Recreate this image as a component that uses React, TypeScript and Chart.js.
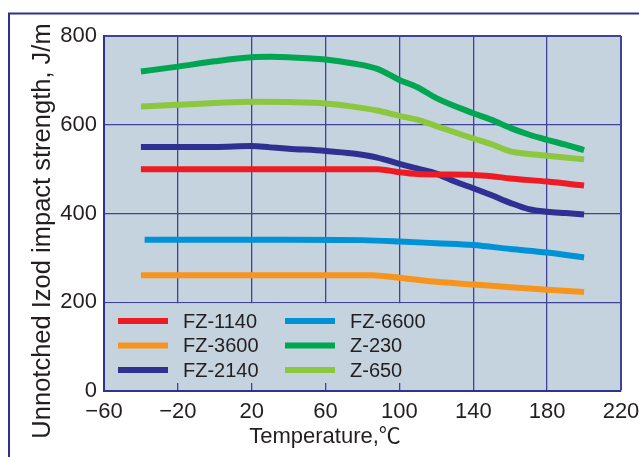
import React, { useEffect, useRef } from "react";
import { Chart, registerables } from "chart.js";

Chart.register(...registerables);

// ---- data ----
const xTickValues = [-60, -20, 20, 60, 100, 140, 180, 220];
const yTickValues = [0, 200, 400, 600, 800];

const seriesNames = ["FZ-1140", "FZ-3600", "FZ-2140", "FZ-6600", "Z-230", "Z-650"];
const seriesColors = ["#ed1c24", "#f7941d", "#2e3192", "#0092d6", "#00a651", "#8dc63f"];

const fz1140Temps = [-40, 0, 40, 88, 100, 110, 120, 140, 150, 160, 180, 200];
const fz1140Values = [500, 500, 500, 500, 493, 489, 488, 487, 484, 479, 472, 463];

const fz3600Temps = [-40, 0, 40, 85, 100, 120, 140, 160, 180, 200];
const fz3600Values = [261, 261, 261, 261, 255, 246, 240, 234, 228, 223];

const fz2140Temps = [-40, -20, 0, 20, 30, 40, 60, 75, 88, 100, 110, 120, 130, 140, 150, 160, 170, 180, 190, 200];
const fz2140Values = [550, 550, 550, 552, 549, 546, 541, 535, 526, 512, 501, 490, 472, 457, 441, 424, 410, 404, 401, 398];

const fz6600Temps = [-38, 0, 40, 80, 100, 120, 140, 160, 180, 200];
const fz6600Values = [341, 341, 341, 340, 337, 333, 329, 320, 312, 301];

const z230Temps = [-40, -20, 0, 20, 30, 40, 60, 75, 88, 100, 110, 120, 140, 150, 160, 170, 180, 190, 200];
const z230Values = [720, 731, 743, 752, 753, 752, 747, 738, 726, 701, 684, 660, 626, 611, 593, 578, 566, 555, 543];

const z650Temps = [-40, -20, 0, 20, 40, 60, 73, 88, 100, 110, 120, 140, 150, 160, 170, 180, 200];
const z650Values = [641, 645, 649, 652, 651, 648, 642, 632, 620, 611, 597, 569, 556, 540, 534, 530, 522];

const seriesTemps = [fz1140Temps, fz3600Temps, fz2140Temps, fz6600Temps, z230Temps, z650Temps];
const seriesValues = [fz1140Values, fz3600Values, fz2140Values, fz6600Values, z230Values, z650Values];

const xTitle = "Temperature,\u2103";
const yTitle = "Unnotched Izod impact strength, J/m";

// ---- styles ----
const FONT = '"Liberation Sans", Arial, "Noto Sans CJK JP", sans-serif';
const TEXT = "#231f20";
const PLOT_BG = "#c5d3df";
const NAVY = "#2e3192";
const GRID = "#3f4399";

const decor = {
  id: "decor",
  beforeDraw(chart: any) {
    const { ctx, chartArea } = chart;
    ctx.save();
    ctx.fillStyle = PLOT_BG;
    ctx.fillRect(chartArea.left, chartArea.top, chartArea.right - chartArea.left, chartArea.bottom - chartArea.top);
    ctx.strokeStyle = NAVY;
    ctx.lineWidth = 2;
    ctx.beginPath();
    ctx.moveTo(9, chart.height);
    ctx.lineTo(9, 13.5);
    ctx.lineTo(chart.width, 13.5);
    ctx.stroke();
    ctx.restore();
  },
  beforeDatasetsDraw(chart: any) {
    const { ctx, chartArea, scales } = chart;
    const top = scales.y.getPixelForValue(200) + 1;
    const bottom = chartArea.bottom - 8;
    const left = chartArea.left + 1.5;
    ctx.save();
    ctx.fillStyle = PLOT_BG;
    ctx.fillRect(left, top, 440 - left, bottom - top);
    ctx.restore();
  },
  afterDatasetsDraw(chart: any) {
    const { ctx } = chart;
    ctx.save();
    ctx.font = "20px " + FONT;
    ctx.textBaseline = "middle";
    ctx.textAlign = "left";
    chart.data.datasets.forEach((ds: any, i: number) => {
      const col = Math.floor(i / 3);
      const row = i % 3;
      const x0 = 118 + col * 167;
      const y = 321 + row * 24.5;
      ctx.fillStyle = ds.borderColor;
      ctx.fillRect(x0, y - 3, 50, 6);
      ctx.fillStyle = TEXT;
      ctx.fillText(ds.label, x0 + 65, y + 1);
    });
    ctx.restore();
  },
  afterDraw(chart: any) {
    const { ctx } = chart;
    ctx.save();
    ctx.fillStyle = TEXT;
    ctx.textAlign = "center";
    ctx.textBaseline = "alphabetic";
    ctx.font = "22px " + FONT;
    ctx.fillText(xTitle, 325, 443);
    ctx.translate(50, 231);
    ctx.rotate(-Math.PI / 2);
    ctx.font = "25.5px " + FONT;
    ctx.fillText(yTitle, 0, 0);
    ctx.restore();
  },
};

export default function App() {
  const ref = useRef<HTMLCanvasElement>(null);
  useEffect(() => {
    const canvas = ref.current!;
    const chart = new Chart(canvas, {
      type: "line",
      data: {
        datasets: seriesNames.map((name, i) => ({
          label: name,
          data: seriesTemps[i].map((t, j) => ({ x: t, y: seriesValues[i][j] })),
          borderColor: seriesColors[i],
          backgroundColor: seriesColors[i],
          borderWidth: 6,
          pointRadius: 0,
          borderCapStyle: "butt" as const,
          cubicInterpolationMode: "monotone" as const,
          fill: false,
        })),
      },
      options: {
        animation: false,
        responsive: false,
        events: [],
        layout: { padding: { top: 36, right: 18, left: 0, bottom: 0 } },
        plugins: { legend: { display: false }, tooltip: { enabled: false }, title: { display: false } },
        scales: {
          x: {
            type: "linear",
            min: -60,
            max: 220,
            afterBuildTicks: (s: any) => {
              s.ticks = xTickValues.map((v) => ({ value: v }));
            },
            afterFit: (s: any) => {
              s.height = 66;
              s.paddingRight = 0;
              s.paddingLeft = 0;
            },
            grid: {
              color: GRID,
              lineWidth: (c: any) => (c.tick && c.tick.value === 220 ? 2 : 1.3),
              drawTicks: false,
            },
            border: { display: true, color: NAVY, width: 2 },
            ticks: {
              padding: 8,
              color: TEXT,
              font: { family: FONT, size: 22 },
              maxRotation: 0,
              callback: (v: any) => (Number(v) < 0 ? "\u2212" + Math.abs(Number(v)) : String(v)),
            },
          },
          y: {
            type: "linear",
            min: 0,
            max: 800,
            afterBuildTicks: (s: any) => {
              s.ticks = yTickValues.map((v) => ({ value: v }));
            },
            afterFit: (s: any) => {
              s.width = 104;
              s.paddingTop = 0;
              s.paddingBottom = 0;
            },
            grid: {
              color: GRID,
              lineWidth: (c: any) => (c.tick && c.tick.value === 800 ? 2 : 1.3),
              drawTicks: false,
            },
            border: { display: true, color: NAVY, width: 2 },
            ticks: {
              padding: 7,
              color: TEXT,
              font: { family: FONT, size: 22 },
            },
          },
        },
      },
      plugins: [decor],
    });
    return () => chart.destroy();
  }, []);
  return (
    <div style={{ position: "fixed", left: 0, top: 0, width: 639, height: 457, background: "#fff" }}>
      <canvas ref={ref} width={639} height={457} style={{ display: "block" }} />
    </div>
  );
}
